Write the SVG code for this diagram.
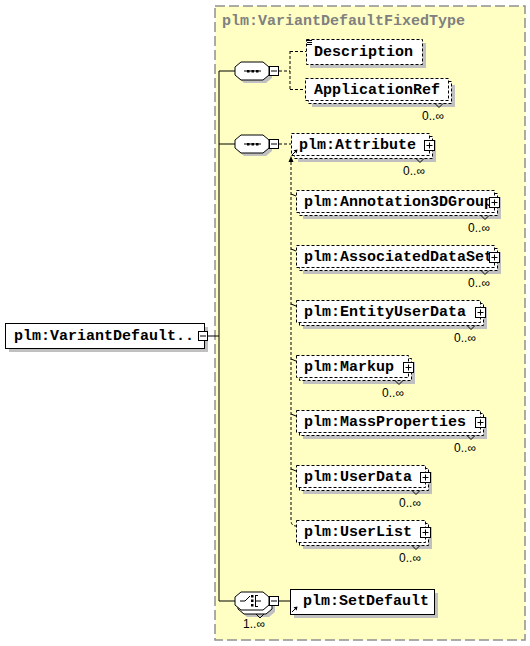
<svg xmlns="http://www.w3.org/2000/svg" width="530" height="646" viewBox="0 0 530 646">
<style>
.lbl{font-family:"Liberation Mono","Courier New",monospace;font-weight:bold;font-size:15px;fill:#000}
.ttl{font-family:"Liberation Mono","Courier New",monospace;font-weight:bold;font-size:15px;fill:#808080}
.occ{font-family:"Liberation Sans",Arial,sans-serif;font-size:12px;fill:#000}
.box{fill:#fff;stroke:#000;stroke-width:1}
.dbox{fill:#fff;stroke:#000;stroke-width:1;stroke-dasharray:3,2}
.shd{fill:#c0c0c0;stroke:none}
.ln{stroke:#000;stroke-width:1;fill:none}
.dl{stroke:#000;stroke-width:1;fill:none;stroke-dasharray:3,2}
.btn{fill:#fff;stroke:#000;stroke-width:1}
</style>
<rect x="215" y="6" width="310" height="634" fill="#ffffc4" stroke="#909090" stroke-width="1.5" stroke-dasharray="10,4"/>
<text class="ttl" x="222" y="25">plm:VariantDefaultFixedType</text>

<g id="connectors">
  <line class="ln" x1="208" y1="336" x2="219" y2="336"/>
  <line class="ln" x1="219" y1="71" x2="219" y2="601"/>
  <line class="ln" x1="219" y1="71" x2="235" y2="71"/>
  <line class="ln" x1="219" y1="144" x2="235" y2="144"/>
  <line class="ln" x1="219" y1="601" x2="235" y2="601"/>
  <path class="dl" d="M279,71 H290 M290,51 V90 M290,51.5 H306 M290,89.5 H305"/>
  <line class="dl" x1="279" y1="144" x2="291" y2="144"/>
  <path class="dl" d="M291,162 V520 Q291,526 296,526"/>
  <polygon points="291,156 288.5,162 293.5,162" fill="#000"/>
  <path class="ln" d="M291,194 L296,196 M291,249 L296,251 M291,304 L296,306 M291,359 L296,361 M291,414 L296,416 M291,469 L296,471"/>
  <line class="ln" x1="279" y1="601" x2="290" y2="601"/>
</g>

<g id="root">
  <rect class="shd" x="9" y="327" width="199" height="25"/>
  <rect class="box" x="5.5" y="323.5" width="199" height="25"/>
  <text class="lbl" x="14" y="340">plm:VariantDefault..</text>
  <rect class="btn" x="198.5" y="331.5" width="9" height="9"/>
  <line class="ln" x1="200" y1="336" x2="206" y2="336"/>
</g>

<g id="seq1">
  <path class="shd" d="M244,65 H266 L272,70 V78 L266,83 H244 L238,78 V70 Z"/>
  <path class="box" d="M241,62 H263 L269,67 V75 L263,80 H241 L235,75 V67 Z"/>
  <line class="ln" x1="244" y1="71" x2="261" y2="71"/>
  <rect x="247" y="70" width="2.5" height="2.5" fill="#000"/>
  <rect x="251.5" y="70" width="2.5" height="2.5" fill="#000"/>
  <rect x="256" y="70" width="2.5" height="2.5" fill="#000"/>
  <rect class="btn" x="269.5" y="66.5" width="9" height="9"/>
  <line class="ln" x1="271" y1="71" x2="277" y2="71"/>
</g>

<g id="seq2">
  <path class="shd" d="M244,138 H266 L272,143 V151 L266,156 H244 L238,151 V143 Z"/>
  <path class="box" d="M241,135 H263 L269,140 V148 L263,153 H241 L235,148 V140 Z"/>
  <line class="ln" x1="244" y1="144" x2="261" y2="144"/>
  <rect x="247" y="143" width="2.5" height="2.5" fill="#000"/>
  <rect x="251.5" y="143" width="2.5" height="2.5" fill="#000"/>
  <rect x="256" y="143" width="2.5" height="2.5" fill="#000"/>
  <rect class="btn" x="269.5" y="139.5" width="9" height="9"/>
  <line class="ln" x1="271" y1="144" x2="277" y2="144"/>
</g>

<g id="choice">
  <path class="shd" d="M247,599 H269 L275,604 V612 L269,617 H247 L241,612 V604 Z"/>
  <path class="box" d="M244,596 H266 L272,601 V609 L266,614 H244 L238,609 V601 Z"/>
  <polyline class="ln" points="256,614 260,618 264,614" fill="#fff"/>
  <path class="box" d="M241,592 H263 L269,597 V605 L263,610 H241 L235,605 V597 Z"/>
  <path class="ln" d="M240,601 H245 L250,596"/>
  <rect x="251" y="595" width="2.5" height="2.5" fill="#000"/>
  <rect x="251" y="599.5" width="2.5" height="2.5" fill="#000"/>
  <rect x="251" y="604" width="2.5" height="2.5" fill="#000"/>
  <path class="ln" d="M255.5,595 V607 M255.5,601 H261 M255.5,595.5 H258 M255.5,606.5 H258"/>
  <rect class="btn" x="269.5" y="596.5" width="9" height="9"/>
  <line class="ln" x1="271" y1="601" x2="277" y2="601"/>
  <text class="occ" x="254" y="628" text-anchor="middle">1..∞</text>
</g>

<g id="description">
  <rect class="shd" x="310" y="43" width="116" height="25"/>
  <rect class="dbox" x="306.5" y="39.5" width="116" height="25"/>
  <path class="ln" d="M307,40.5 H312 M307,42.5 H312 M307,44.5 H312"/>
  <text class="lbl" x="314" y="56">Description</text>
</g>

<g id="applicationRef">
  <rect class="shd" x="312" y="85" width="143" height="22"/>
  <rect class="dbox" x="308.5" y="81.5" width="143" height="22"/>
  <rect class="dbox" x="305.5" y="78.5" width="143" height="22"/>
  <polyline class="ln" points="435,103.5 439,107.5 443,103.5" fill="#fff"/>
  <text class="lbl" x="314" y="94">ApplicationRef</text>
  <text class="occ" x="433" y="120" text-anchor="middle">0..∞</text>
</g>

<g id="attribute">
  <rect class="shd" x="298" y="140" width="138" height="22"/>
  <rect class="dbox" x="294.5" y="136.5" width="138" height="22"/>
  <rect class="dbox" x="291.5" y="133.5" width="138" height="22"/>
  <polyline class="ln" points="416,158.5 420,162.5 424,158.5" fill="#fff"/>
  <text class="lbl" x="299" y="149">plm:Attribute</text>
  <rect class="btn" x="424.5" y="140.5" width="10" height="10"/>
  <path class="ln" d="M426.5,145.5 H432.5 M429.5,142.5 V148.5"/>
  <path class="ln" d="M292,155 L296,151"/>
  <polygon points="297.5,149.5 293.5,150.3 296.7,153.5" fill="#000"/>
  <text class="occ" x="414" y="175" text-anchor="middle">0..∞</text>
</g>

<g id="annotation3DGroup">
  <rect class="shd" x="303" y="197" width="198" height="22"/>
  <rect class="dbox" x="299.5" y="193.5" width="198" height="22"/>
  <rect class="dbox" x="296.5" y="190.5" width="198" height="22"/>
  <polyline class="ln" points="481,215.5 485,219.5 489,215.5" fill="#fff"/>
  <text class="lbl" x="304" y="206">plm:Annotation3DGroup</text>
  <rect class="btn" x="489.5" y="197.5" width="10" height="10"/>
  <path class="ln" d="M491.5,202.5 H497.5 M494.5,199.5 V205.5"/>
  <text class="occ" x="479" y="232" text-anchor="middle">0..∞</text>
</g>

<g id="associatedDataSet">
  <rect class="shd" x="303" y="252" width="198" height="22"/>
  <rect class="dbox" x="299.5" y="248.5" width="198" height="22"/>
  <rect class="dbox" x="296.5" y="245.5" width="198" height="22"/>
  <polyline class="ln" points="481,270.5 485,274.5 489,270.5" fill="#fff"/>
  <text class="lbl" x="304" y="261">plm:AssociatedDataSet</text>
  <rect class="btn" x="489.5" y="252.5" width="10" height="10"/>
  <path class="ln" d="M491.5,257.5 H497.5 M494.5,254.5 V260.5"/>
  <text class="occ" x="479" y="287" text-anchor="middle">0..∞</text>
</g>

<g id="entityUserData">
  <rect class="shd" x="303" y="307" width="184" height="22"/>
  <rect class="dbox" x="299.5" y="303.5" width="184" height="22"/>
  <rect class="dbox" x="296.5" y="300.5" width="184" height="22"/>
  <polyline class="ln" points="467,325.5 471,329.5 475,325.5" fill="#fff"/>
  <text class="lbl" x="304" y="316">plm:EntityUserData</text>
  <rect class="btn" x="475.5" y="307.5" width="10" height="10"/>
  <path class="ln" d="M477.5,312.5 H483.5 M480.5,309.5 V315.5"/>
  <text class="occ" x="465" y="342" text-anchor="middle">0..∞</text>
</g>

<g id="markup">
  <rect class="shd" x="303" y="362" width="112" height="22"/>
  <rect class="dbox" x="299.5" y="358.5" width="112" height="22"/>
  <rect class="dbox" x="296.5" y="355.5" width="112" height="22"/>
  <polyline class="ln" points="395,380.5 399,384.5 403,380.5" fill="#fff"/>
  <text class="lbl" x="304" y="371">plm:Markup</text>
  <rect class="btn" x="403.5" y="362.5" width="10" height="10"/>
  <path class="ln" d="M405.5,367.5 H411.5 M408.5,364.5 V370.5"/>
  <text class="occ" x="393" y="397" text-anchor="middle">0..∞</text>
</g>

<g id="massProperties">
  <rect class="shd" x="303" y="417" width="184" height="22"/>
  <rect class="dbox" x="299.5" y="413.5" width="184" height="22"/>
  <rect class="dbox" x="296.5" y="410.5" width="184" height="22"/>
  <polyline class="ln" points="467,435.5 471,439.5 475,435.5" fill="#fff"/>
  <text class="lbl" x="304" y="426">plm:MassProperties</text>
  <rect class="btn" x="475.5" y="417.5" width="10" height="10"/>
  <path class="ln" d="M477.5,422.5 H483.5 M480.5,419.5 V425.5"/>
  <text class="occ" x="465" y="452" text-anchor="middle">0..∞</text>
</g>

<g id="userData">
  <rect class="shd" x="303" y="472" width="129" height="22"/>
  <rect class="dbox" x="299.5" y="468.5" width="129" height="22"/>
  <rect class="dbox" x="296.5" y="465.5" width="129" height="22"/>
  <polyline class="ln" points="412,490.5 416,494.5 420,490.5" fill="#fff"/>
  <text class="lbl" x="304" y="481">plm:UserData</text>
  <rect class="btn" x="420.5" y="472.5" width="10" height="10"/>
  <path class="ln" d="M422.5,477.5 H428.5 M425.5,474.5 V480.5"/>
  <text class="occ" x="410" y="507" text-anchor="middle">0..∞</text>
</g>

<g id="userList">
  <rect class="shd" x="303" y="527" width="129" height="22"/>
  <rect class="dbox" x="299.5" y="523.5" width="129" height="22"/>
  <rect class="dbox" x="296.5" y="520.5" width="129" height="22"/>
  <polyline class="ln" points="412,545.5 416,549.5 420,545.5" fill="#fff"/>
  <text class="lbl" x="304" y="536">plm:UserList</text>
  <rect class="btn" x="420.5" y="527.5" width="10" height="10"/>
  <path class="ln" d="M422.5,532.5 H428.5 M425.5,529.5 V535.5"/>
  <text class="occ" x="410" y="562" text-anchor="middle">0..∞</text>
</g>

<g id="setDefault">
  <rect class="shd" x="294" y="593" width="144" height="25"/>
  <rect class="box" x="290.5" y="589.5" width="144" height="25"/>
  <text class="lbl" x="303" y="605">plm:SetDefault</text>
  <path class="ln" d="M292,612 L296,608"/>
  <polygon points="297.5,606.5 293.5,607.3 296.7,610.5" fill="#000"/>
</g>
</svg>
